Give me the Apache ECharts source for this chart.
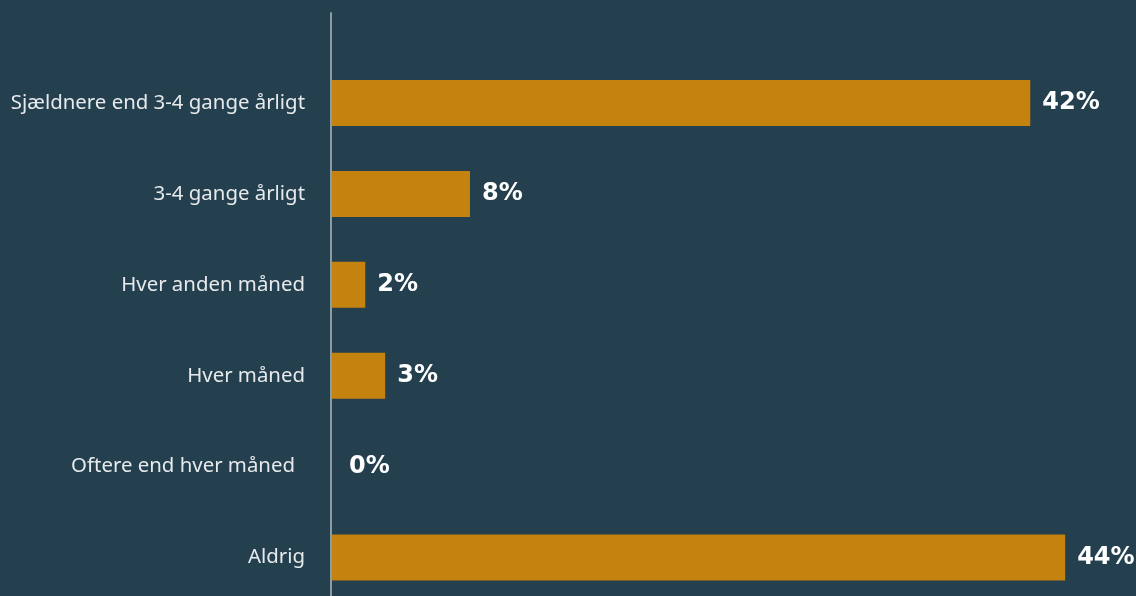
<!DOCTYPE html>
<html><head><meta charset="utf-8">
<script src="https://cdn.jsdelivr.net/npm/echarts@6/dist/echarts.min.js"></script>
<style>html,body{margin:0;padding:0;background:#243f4e;overflow:hidden;}#c{width:1136px;height:603px;}</style>
</head><body><div id="c"></div>
<script>
const categories = ['Sjældnere end 3-4 gange årligt','3-4 gange årligt','Hver anden måned','Hver måned','Oftere end hver måned','Aldrig'];
const values = [42, 8.3, 2, 3.2, 0, 44.1];
const valueLabels = ['42%','8%','2%','3%','0%','44%'];

const chart = echarts.init(document.getElementById('c'));
chart.setOption({
  backgroundColor:'#243f4e',
  animation:false,
  grid:[
    {left:332, right:6, top:57.6, bottom:0},
    {left:331, width:1, top:13, bottom:0}
  ],
  xAxis:[
    {gridIndex:0, type:'value', min:0, max:48, show:false},
    {gridIndex:1, type:'value', min:0, max:1, show:false}
  ],
  yAxis:[
    {gridIndex:0, type:'category', inverse:true,
     data: categories.map(c => c === 'Oftere end hver måned' ? {value:c, textStyle:{padding:[0,10,0,0]}} : c),
     axisLine:{show:false}, axisTick:{show:false},
     axisLabel:{color:'#e6eaec', fontFamily:'Noto Sans', fontSize:20.4, margin:27}},
    {gridIndex:1, type:'value', min:0, max:1,
     axisLine:{show:true, lineStyle:{color:'#8d9ba3', width:2}},
     axisTick:{show:false}, axisLabel:{show:false}, splitLine:{show:false}}
  ],
  series:[{
    type:'bar', xAxisIndex:0, yAxisIndex:0,
    data: values.map(v => v === 0 ? {value:v, label:{distance:17}} : v),
    barWidth:46,
    itemStyle:{color:'#c4820f'},
    label:{show:true, position:'right', distance:12,
      formatter: p => valueLabels[p.dataIndex],
      color:'#ffffff', fontFamily:'DejaVu Sans', fontWeight:'bold', fontSize:24}
  }]
});
</script></body></html>
